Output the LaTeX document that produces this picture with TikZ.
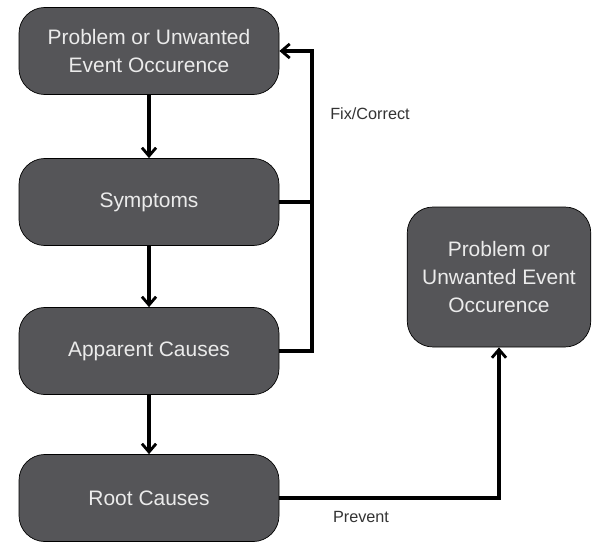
\documentclass[tikz,border=0pt]{standalone}
\usepackage{fontspec}
\setmainfont{Liberation Sans}
\usetikzlibrary{arrows.meta}
\definecolor{boxgray}{RGB}{85,85,88}
\definecolor{txtgray}{RGB}{235,235,235}
\tikzset{
    stage/.style={draw=black, line width=0.6pt, fill=boxgray, text=txtgray,
        rounded corners=22pt, minimum width=221pt, minimum height=74pt,
        align=center, font=\fontsize{17.8}{23.5}\selectfont},
    link/.style={line width=3.2pt, -{Straight Barb[length=7pt, width=12pt, line width=2.4pt]}},
    bar/.style={line width=3.2pt},
    tag/.style={font=\fontsize{13.8}{16}\selectfont, text=black!80}
}
\begin{document}
\begin{tikzpicture}[x=0.85pt, y=-0.85pt]
    \useasboundingbox (0, 0) rectangle (593, 543);
    % left column
    \node [stage] (event) at (149, 51) {Problem or Unwanted\\Event Occurence};
    \node [stage] (symptoms) at (149, 202) {Symptoms};
    \node [stage] (apparent) at (149, 351) {Apparent Causes};
    \node [stage] (root) at (149, 498) {Root Causes};
    % right box
    \node [stage, minimum width=156pt, minimum height=119pt] (again) at (499, 277)
        {Problem or\\Unwanted Event\\Occurence};
    \draw [link] (event) -- (symptoms);
    \draw [link] (symptoms) -- (apparent);
    \draw [link] (apparent) -- (root);
    % fix/correct loop
    \coordinate (bus) at (312, 0);
    \draw [bar] (symptoms.east) -- (bus |- symptoms.east);
    \draw [link, rounded corners=0pt] (apparent.east) -| (bus |- symptoms.east) |- (event.east);
    \draw [link] (root.east) -| (again.south);
    \node [tag] (fix) at (370, 114) {Fix/Correct};
    \node [tag] (prevent) at (361, 517) {Prevent};
\end{tikzpicture}
\end{document}
